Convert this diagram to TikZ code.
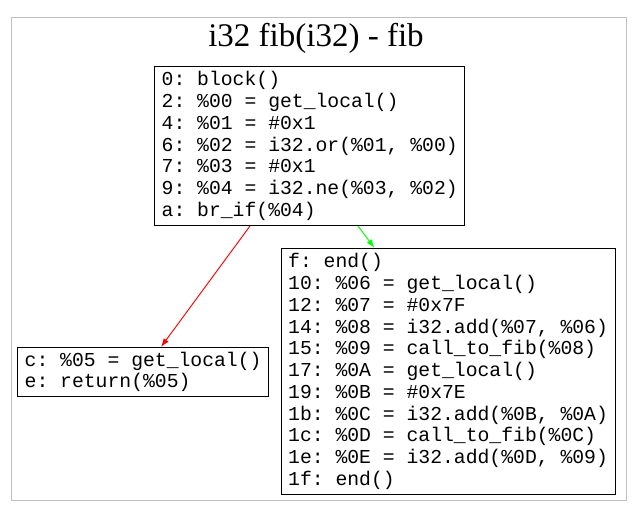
\documentclass[tikz,border=0pt]{standalone}
\usepackage{fontspec}
\setmainfont{Liberation Serif}
\setmonofont{Liberation Mono}
\usepackage{xcolor}
\usepackage{tikz}
\usetikzlibrary{positioning,arrows.meta,calc}
\definecolor{framegray}{RGB}{192,192,192}
\definecolor{edgegreen}{RGB}{0,255,0}

\begin{document}
\begin{tikzpicture}[x=0.75pt, y=-0.75pt, >={Latex[length=6.5pt,width=4.5pt]}]
    \tikzstyle{block} = [rectangle, draw=black, line width=0.75pt, fill=white, anchor=north west, align=left, inner xsep=5.4pt, inner ysep=0pt, font=\ttfamily\fontsize{14.8pt}{16.3pt}\selectfont]
    \tikzstyle{edge} = [->, line width=0.7pt]

    \useasboundingbox (0,0) rectangle (636,511);
    \draw [framegray, line width=0.75pt] (11.5,17) rectangle (626.5,500.5);
    \node [font=\fontsize{24.75pt}{28pt}\selectfont] (title) at (316,38) {i32 fib(i32) - fib};

    \node [block, minimum height=119.25pt] (blk0) at (154,66) {0: block()\\2: \%00 = get\_local()\\4: \%01 = \#0x1\\6: \%02 = i32.or(\%01, \%00)\\7: \%03 = \#0x1\\9: \%04 = i32.ne(\%03, \%02)\\a: br\_if(\%04)};
    \node [block, minimum height=36.75pt] (blkc) at (17,347) {c: \%05 = get\_local()\\e: return(\%05)};
    \node [block, minimum height=184.5pt] (blkf) at (280.5,248) {f: end()\\10: \%06 = get\_local()\\12: \%07 = \#0x7F\\14: \%08 = i32.add(\%07, \%06)\\15: \%09 = call\_to\_fib(\%08)\\17: \%0A = get\_local()\\19: \%0B = \#0x7E\\1b: \%0C = i32.add(\%0B, \%0A)\\1c: \%0D = call\_to\_fib(\%0C)\\1e: \%0E = i32.add(\%0D, \%09)\\1f: end()};

    \draw [edge, red] ([xshift=72pt]blk0.south west) -- ([xshift=108pt]blkc.north west);
    \draw [edge, edgegreen] ([xshift=153pt]blk0.south west) -- ([xshift=70.5pt]blkf.north west);
\end{tikzpicture}
\end{document}
